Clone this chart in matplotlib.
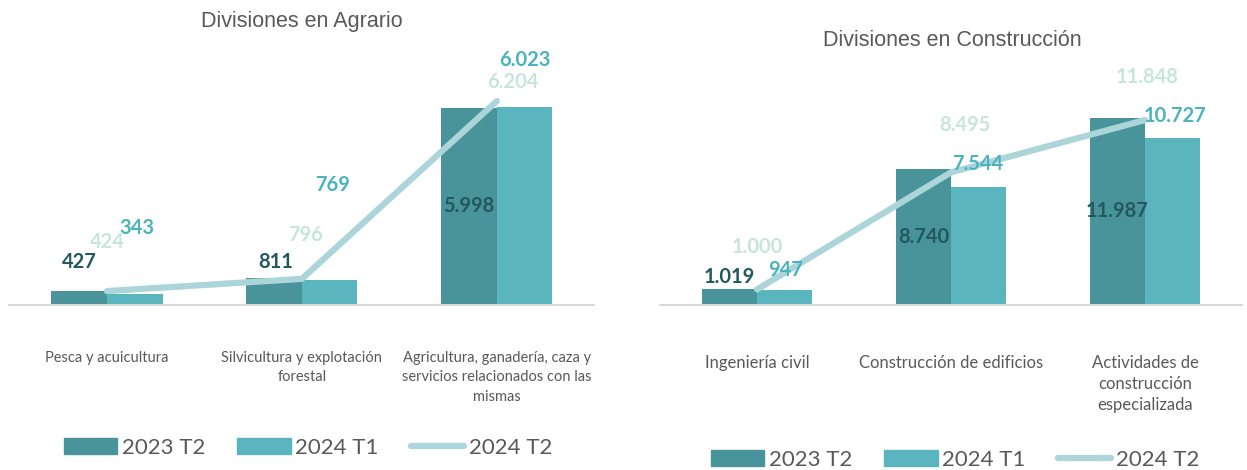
import numpy as np
import matplotlib.pyplot as plt
from matplotlib.patches import Patch
from matplotlib.lines import Line2D

# datos por división
agr_cats = ["Pesca y acuicultura", "Silvicultura y explotación\nforestal",
            "Agricultura, ganadería, caza y\nservicios relacionados con las\nmismas"]
agr_2023t2 = [427, 811, 5998]
agr_2024t1 = [343, 769, 6023]
agr_2024t2 = [424, 796, 6204]

con_cats = ["Ingeniería civil", "Construcción de edificios",
            "Actividades de\nconstrucción\nespecializada"]
con_2023t2 = [1019, 8740, 11987]
con_2024t1 = [947, 7544, 10727]
con_2024t2 = [1000, 8495, 11848]

series = ["2023 T2", "2024 T1", "2024 T2"]

c_dark = "#48949a"
c_mid = "#5ab5bf"
c_line = "#acd5da"
c_lab_dark = "#21595e"
c_lab_mid = "#4bb3bd"
c_lab_light = "#c6e5dc"
c_text = "#595959"

plt.rcParams["font.family"] = ["Lato", "DejaVu Sans"]


def fmt(v):
    return f"{v:,}".replace(",", ".")


# desplazamiento de etiquetas en píxeles (None = centrada en la barra)
agr_off = {
    "a": [(0, 29), (2, 16), None],
    "b": [(2, 66), (3, 95), (0, 47)],
    "c": [(0, 49), (4, 44), (16, 19)],
}
con_off = {
    "a": [(0, 12), None, None],
    "b": [(1, 20), (-1, 23), (2, 22)],
    "c": [(0, 42), (14, 47), (2, 43)],
}


def draw(ax, cats, a, b, c, ymax, off, pad, catsize, spacing):
    x = np.arange(len(cats))
    w = 0.285
    ax.bar(x - w / 2, a, w, color=c_dark, zorder=2)
    ax.bar(x + w / 2, b, w, color=c_mid, zorder=2)
    ax.plot(x, c, color=c_line, lw=4.5, solid_capstyle="round", zorder=3)
    ax.set_xlim(-0.5, len(cats) - 0.5)
    ax.set_ylim(0, ymax)
    for s in ["top", "right", "left"]:
        ax.spines[s].set_visible(False)
    ax.spines["bottom"].set_color("#d9d9d9")
    ax.spines["bottom"].set_linewidth(1.5)
    ax.set_yticks([])
    ax.set_xticks(x)
    ax.set_xticklabels(cats, color=c_text, fontsize=catsize, linespacing=spacing)
    ax.tick_params(axis="x", length=0, pad=pad)

    for vals, xs, key, col in [(a, x - w / 2, "a", c_lab_dark),
                               (b, x + w / 2, "b", c_lab_mid),
                               (c, x, "c", c_lab_light)]:
        for i, v in enumerate(vals):
            o = off[key][i]
            if o is None:
                ax.text(xs[i], v / 2, fmt(v), ha="center", va="center",
                        fontsize=14.5, fontweight="bold", color=col, zorder=5)
            else:
                ax.annotate(fmt(v), (xs[i], v), xytext=o,
                            textcoords="offset pixels", ha="center",
                            va="center", fontsize=14.5, fontweight="bold",
                            color=col, zorder=5)


fig = plt.figure(figsize=(12.47, 4.70), dpi=100)
ax1 = fig.add_axes([0.0076, 0.351, 0.469, 0.5596])
ax2 = fig.add_axes([0.5293, 0.351, 0.4667, 0.515])

draw(ax1, agr_cats, agr_2023t2, agr_2024t1, agr_2024t2, 8000, agr_off, 33, 10.5, 1.5)
draw(ax2, con_cats, con_2023t2, con_2024t1, con_2024t2, 15500, con_off, 36, 12, 1.4)

fig.text(302 / 1247, 1 - 22 / 470, "Divisiones en Agrario", ha="center",
         va="center", fontsize=15.5, color=c_text, family="Liberation Sans")
fig.text(952 / 1247, 1 - 40 / 470, "Divisiones en Construcción", ha="center",
         va="center", fontsize=15.5, color=c_text, family="Liberation Sans")

handles = [Patch(color=c_dark), Patch(color=c_mid),
           Line2D([0], [0], color=c_line, lw=4.5, solid_capstyle="round")]
for cx, cy in [(308, 448), (955, 460)]:
    fig.legend(handles, series, loc="center",
               bbox_to_anchor=(cx / 1247, 1 - cy / 470), ncol=3, frameon=False,
               fontsize=16, labelcolor=c_text, handlelength=2.4,
               handleheight=0.7, handletextpad=0.2, columnspacing=1.45)

fig.savefig("out.png", dpi=100, facecolor="white")
